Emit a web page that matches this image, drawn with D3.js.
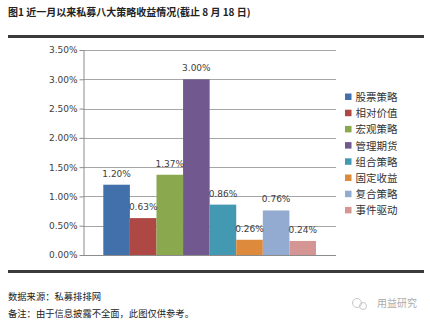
<!DOCTYPE html>
<html>
<head>
<meta charset="utf-8">
<script src="https://cdn.jsdelivr.net/npm/d3@7"></script>
<style>
  html, body { margin: 0; padding: 0; background: #fff; }
  svg { display: block; font-family: "Noto Sans CJK SC", "DejaVu Sans", sans-serif; }
</style>
</head>
<body>
<svg id="chart" width="430" height="322"></svg>
<script>
// Strategy names and one-month returns (%)
const strategies = ["股票策略", "相对价值", "宏观策略", "管理期货", "组合策略", "固定收益", "复合策略", "事件驱动"];
const returns = [1.20, 0.63, 1.37, 3.00, 0.86, 0.26, 0.76, 0.24];
const colors = ["#4170AA", "#AE4844", "#8AA84D", "#71598F", "#4299B1", "#DE8A3C", "#93AAD1", "#D59594"];
const yTicks = [0, 0.5, 1.0, 1.5, 2.0, 2.5, 3.0, 3.5];

const titleText = "图1  近一月以来私募八大策略收益情况(截止 8 月 18 日)";
const sourceText = "数据来源：私募排排网";
const noteText = "备注：由于信息披露不全面，此图仅供参考。";
const brandText = "用益研究";

const svg = d3.select("#chart");

// Title and rules
svg.append("text").attr("x", 8).attr("y", 16)
  .attr("font-size", 10).attr("font-weight", "bold").attr("fill", "#222")
  .text(titleText);
svg.append("rect").attr("x", 8).attr("y", 35).attr("width", 416).attr("height", 3).attr("fill", "#3a3a3a");
svg.append("rect").attr("x", 8).attr("y", 270).attr("width", 416).attr("height", 3).attr("fill", "#3a3a3a");

// Plot area
const plot = { left: 83, right: 336, top: 50, bottom: 255 };

const y = d3.scaleLinear().domain([0, 3.5]).range([plot.bottom, plot.top]);
const x = d3.scaleBand().domain(strategies).range([103.3, 316]).padding(0);

const g = svg.append("g");

// Gridlines
g.selectAll("line.grid").data(yTicks.filter(d => d > 0)).join("line")
  .attr("x1", plot.left).attr("x2", plot.right)
  .attr("y1", d => Math.round(y(d)) + 0.5).attr("y2", d => Math.round(y(d)) + 0.5)
  .attr("stroke", "#a6a6a6").attr("stroke-width", 1);

// Y axis
const yAxis = d3.axisLeft(y).tickValues(yTicks).tickFormat(d => d.toFixed(2) + "%").tickSize(4).tickSizeOuter(0);
const ax = svg.append("g").attr("transform", `translate(${plot.left + 0.5},0)`).call(yAxis);
ax.select(".domain").attr("stroke", "#8c8c8c");
ax.selectAll(".tick line").attr("stroke", "#8c8c8c");
ax.selectAll(".tick text").attr("font-size", 9).attr("fill", "#404040")
  .attr("font-family", "'DejaVu Sans', sans-serif").attr("x", -6);

// X baseline
svg.append("line").attr("x1", plot.left).attr("x2", plot.right)
  .attr("y1", plot.bottom + 0.5).attr("y2", plot.bottom + 0.5)
  .attr("stroke", "#8c8c8c");

// Bars
g.selectAll("rect.bar").data(returns).join("rect")
  .attr("x", (d, i) => x(strategies[i]))
  .attr("y", d => y(d))
  .attr("width", x.bandwidth())
  .attr("height", d => plot.bottom - y(d))
  .attr("fill", (d, i) => colors[i]);

// Value labels
g.selectAll("text.val").data(returns).join("text")
  .attr("x", (d, i) => x(strategies[i]) + x.bandwidth() / 2)
  .attr("y", d => y(d) - 8)
  .attr("text-anchor", "middle")
  .attr("font-size", 9).attr("fill", "#404040")
  .attr("font-family", "'DejaVu Sans', sans-serif")
  .text(d => d.toFixed(2) + "%");

// Legend
const legend = svg.append("g").attr("transform", "translate(345,97)");
const rowH = 16.2;
strategies.forEach((s, i) => {
  legend.append("rect").attr("x", 0).attr("y", i * rowH - 3.5).attr("width", 6.5).attr("height", 6.5).attr("fill", colors[i]);
  legend.append("text").attr("x", 10.5).attr("y", i * rowH + 4)
    .attr("font-size", 10.5).attr("fill", "#333").text(s);
});

// Footer notes
svg.append("text").attr("x", 8).attr("y", 300).attr("font-size", 9.3).attr("fill", "#222").text(sourceText);
svg.append("text").attr("x", 8).attr("y", 317).attr("font-size", 9.3).attr("fill", "#222").text(noteText);

// Brand mark
const brand = svg.append("g").attr("transform", "translate(0,0)").attr("opacity", 0.55);
brand.append("circle").attr("cx", 357).attr("cy", 303).attr("r", 4.5).attr("fill", "none").attr("stroke", "#999").attr("stroke-width", 1);
brand.append("circle").attr("cx", 363).attr("cy", 306).attr("r", 3.5).attr("fill", "none").attr("stroke", "#999").attr("stroke-width", 1);
brand.append("text").attr("x", 377).attr("y", 307).attr("font-size", 10).attr("fill", "#666").text(brandText);
</script>
</body>
</html>
